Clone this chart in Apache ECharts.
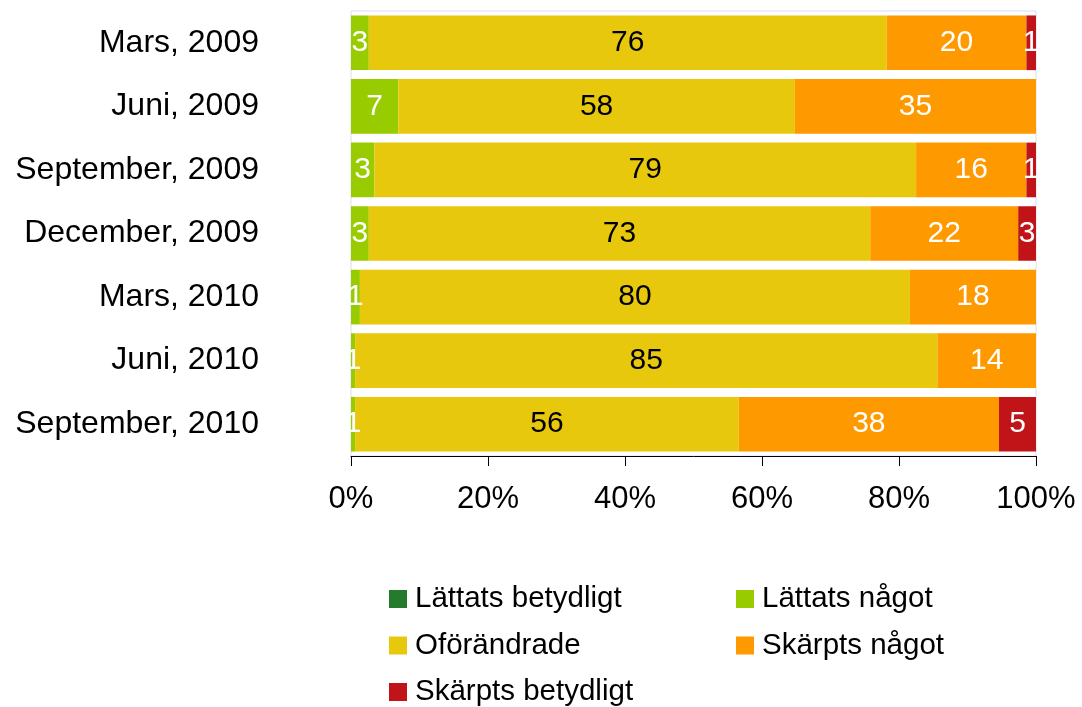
<!DOCTYPE html>
<html>
<head>
<meta charset="utf-8">
<script src="https://cdn.jsdelivr.net/npm/echarts@6/dist/echarts.min.js"></script>
<style>
  html, body { margin: 0; padding: 0; background: #fff; }
  #chart { width: 1082px; height: 707px; }
</style>
</head>
<body>
<div id="chart"></div>
<script>
// kategorier, uppifrån och ned
var categories = ['Mars, 2009', 'Juni, 2009', 'September, 2009', 'December, 2009', 'Mars, 2010', 'Juni, 2010', 'September, 2010'];

// andel svar i procent
var lattatsBetydligt = [0, 0, 0, 0, 0, 0, 0];
var lattatsNagot     = [2.6, 6.9, 3.4, 2.6, 1.3, 0.6, 0.6];
var oforandrade      = [75.6, 57.9, 79.1, 73.2, 80.3, 85.0, 56.0];
var skarptsNagot     = [20.4, 35.2, 16.1, 21.6, 18.4, 14.4, 38.0];
var skarptsBetydligt = [1.4, 0, 1.4, 2.6, 0, 0, 5.4];

var xTicks = [0, 20, 40, 60, 80, 100];

var font = 'Liberation Sans, Arial, sans-serif';

function serie(name, data, color, textColor) {
  return {
    name: name,
    type: 'bar',
    stack: 'total',
    barCategoryGap: '14%',
    data: data,
    itemStyle: { color: color },
    label: {
      show: true,
      position: 'inside',
      color: textColor,
      fontFamily: font,
      fontSize: 30,
      formatter: function (p) {
        return p.value > 0 ? Math.round(p.value) : '';
      }
    }
  };
}

var legendText = { fontFamily: font, fontSize: 29.5, color: '#000', lineHeight: 30, padding: [0, 0, 0, 3] };

var chart = echarts.init(document.getElementById('chart'));
chart.setOption({
  animation: false,
  grid: {
    left: 351, right: 46, top: 11, bottom: 251,
    show: true, borderColor: '#dcdcef', borderWidth: 1
  },
  legend: [
    {
      left: 389, top: 584, orient: 'vertical', padding: 0,
      itemWidth: 18, itemHeight: 18, itemGap: 16.5,
      icon: 'rect',
      textStyle: legendText,
      data: ['Lättats betydligt', 'Oförändrade', 'Skärpts betydligt']
    },
    {
      left: 736, top: 584, orient: 'vertical', padding: 0,
      itemWidth: 18, itemHeight: 18, itemGap: 16.5,
      icon: 'rect',
      textStyle: legendText,
      data: ['Lättats något', 'Skärpts något']
    }
  ],
  xAxis: {
    type: 'value',
    min: xTicks[0], max: xTicks[xTicks.length - 1], interval: 20,
    axisLine: { show: true, lineStyle: { color: '#000', width: 1 } },
    axisTick: { show: true, inside: false, length: 10, lineStyle: { color: '#000' } },
    splitLine: { show: false },
    axisLabel: {
      margin: 28,
      fontFamily: font, fontSize: 31, color: '#000',
      formatter: '{value}%'
    }
  },
  yAxis: {
    type: 'category',
    inverse: true,
    data: categories,
    axisLine: { show: false },
    axisTick: { show: false },
    axisLabel: { margin: 92, fontFamily: font, fontSize: 32, color: '#000' }
  },
  series: [
    serie('Lättats betydligt', lattatsBetydligt, '#267a2e', '#fff'),
    serie('Lättats något', lattatsNagot, '#99cc00', '#fff'),
    serie('Oförändrade', oforandrade, '#e8c80c', '#000'),
    serie('Skärpts något', skarptsNagot, '#ff9900', '#fff'),
    serie('Skärpts betydligt', skarptsBetydligt, '#c01418', '#fff')
  ]
});
</script>
</body>
</html>
